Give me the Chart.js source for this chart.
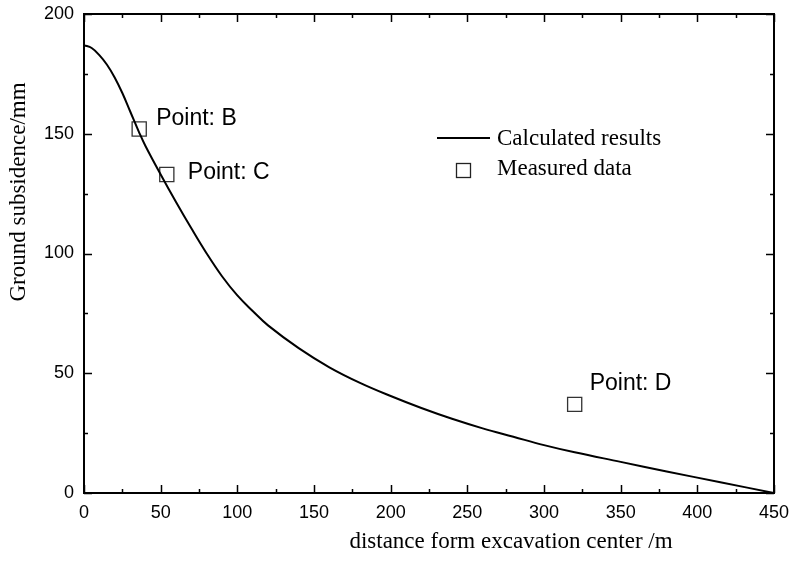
<!DOCTYPE html>
<html>
<head>
<meta charset="utf-8">
<script src="https://cdn.jsdelivr.net/npm/chart.js@4.4.1/dist/chart.umd.min.js"></script>
<style>
  html, body { margin: 0; padding: 0; background: #fff; }
  canvas { display: block; }
</style>
</head>
<body>
<canvas id="myChart" width="795" height="562"></canvas>
<script>
// calculated curve
var calcX = [0, 5, 10, 15, 20, 25, 30, 36, 40, 50, 60, 70, 80, 90, 100, 110, 120, 140, 160, 180, 200, 220, 240, 260, 280, 300, 320, 350, 380, 415, 450];
var calcY = [187, 185.8, 182.8, 178.8, 173.5, 167, 159.5, 150.5, 145, 133, 121.5, 110.5, 100, 90.5, 82.5, 76, 70, 60.5, 52.5, 46, 40.5, 35.5, 31, 27, 23.5, 20, 17, 13, 9, 4.5, 0];

// measured points
var measX = [36, 54, 320];
var measY = [152, 133, 37];
var measLabels = ['Point: B', 'Point: C', 'Point: D'];

var xTicks = [0, 50, 100, 150, 200, 250, 300, 350, 400, 450];
var yTicks = [0, 50, 100, 150, 200];

var serif = '"Liberation Serif", "Times New Roman", serif';
var sans = '"Liberation Sans", Arial, sans-serif';

var curve = calcX.map(function (x, i) { return { x: x, y: calcY[i] }; });
var meas = measX.map(function (x, i) { return { x: x, y: measY[i] }; });

// frame, inward ticks, titles, legend and point labels
var extras = {
    id: 'extras',
    afterDraw: function (chart) {
        var ctx = chart.ctx, a = chart.chartArea;
        var sx = chart.scales.x, sy = chart.scales.y;
        ctx.save();
        ctx.strokeStyle = '#000';
        ctx.lineWidth = 2;
        ctx.strokeRect(a.left, a.top, a.right - a.left, a.bottom - a.top);

        ctx.lineWidth = 1.5;
        ctx.beginPath();
        for (var v = 0; v <= 450; v += 25) {
            var px = Math.round(sx.getPixelForValue(v)) + 0.5;
            var len = v % 50 === 0 ? 8 : 4;
            ctx.moveTo(px, a.bottom); ctx.lineTo(px, a.bottom - len);
            ctx.moveTo(px, a.top); ctx.lineTo(px, a.top + len);
        }
        for (var w = 0; w <= 200; w += 25) {
            var py = Math.round(sy.getPixelForValue(w)) + 0.5;
            var l2 = w % 50 === 0 ? 8 : 4;
            ctx.moveTo(a.left, py); ctx.lineTo(a.left + l2, py);
            ctx.moveTo(a.right, py); ctx.lineTo(a.right - l2, py);
        }
        ctx.stroke();

        // axis titles
        ctx.fillStyle = '#000';
        ctx.font = '23px ' + serif;
        ctx.textAlign = 'center';
        ctx.textBaseline = 'middle';
        ctx.fillText('distance form excavation center /m', 511, 542);
        ctx.save();
        ctx.translate(19, 192);
        ctx.rotate(-Math.PI / 2);
        ctx.fillText('Ground subsidence/mm', 0, 0);
        ctx.restore();

        // point labels
        ctx.font = '23px ' + sans;
        ctx.textAlign = 'left';
        var offs = [[17, -10], [21, -2], [15, -21]];
        measLabels.forEach(function (t, i) {
            var x = sx.getPixelForValue(measX[i]) + offs[i][0];
            var y = sy.getPixelForValue(measY[i]) + offs[i][1];
            ctx.fillText(t, x, y);
        });

        // legend
        ctx.lineWidth = 2;
        ctx.beginPath();
        ctx.moveTo(437, 138); ctx.lineTo(490, 138);
        ctx.stroke();
        ctx.lineWidth = 1.3;
        ctx.strokeStyle = '#222';
        ctx.strokeRect(456.5, 163.5, 14, 14);
        ctx.font = '23px ' + serif;
        ctx.fillText('Calculated results', 497, 139);
        ctx.fillText('Measured data', 497, 169);
        ctx.restore();
    }
};

var myChart = new Chart(document.getElementById('myChart'), {
    type: 'scatter',
    data: {
        datasets: [{
            label: 'Calculated results',
            data: curve,
            showLine: true,
            borderColor: '#000',
            borderWidth: 2,
            pointRadius: 0,
            tension: 0.4
        }, {
            label: 'Measured data',
            data: meas,
            showLine: false,
            pointStyle: 'rect',
            pointRadius: 10,
            borderColor: '#333',
            borderWidth: 1.3,
            backgroundColor: '#fff'
        }]
    },
    options: {
        responsive: false,
        animation: false,
        layout: { padding: { top: 14, right: 21, left: 0, bottom: 0 } },
        plugins: { legend: { display: false }, tooltip: { enabled: false } },
        scales: {
            x: {
                type: 'linear',
                min: 0, max: 450,
                afterFit: function (s) { s.height = 69; s.paddingLeft = 0; s.paddingRight = 0; },
                afterBuildTicks: function (s) { s.ticks = xTicks.map(function (v) { return { value: v }; }); },
                grid: { display: false, drawTicks: false },
                border: { display: false },
                ticks: { color: '#000', padding: 9, autoSkip: false, font: { family: sans, size: 18 }, maxRotation: 0 }
            },
            y: {
                min: 0, max: 200,
                afterFit: function (s) { s.width = 84; s.paddingTop = 0; s.paddingBottom = 0; },
                afterBuildTicks: function (s) { s.ticks = yTicks.map(function (v) { return { value: v }; }); },
                grid: { display: false, drawTicks: false },
                border: { display: false },
                ticks: { color: '#000', padding: 10, autoSkip: false, font: { family: sans, size: 18 } }
            }
        }
    },
    plugins: [extras]
});
</script>
</body>
</html>
